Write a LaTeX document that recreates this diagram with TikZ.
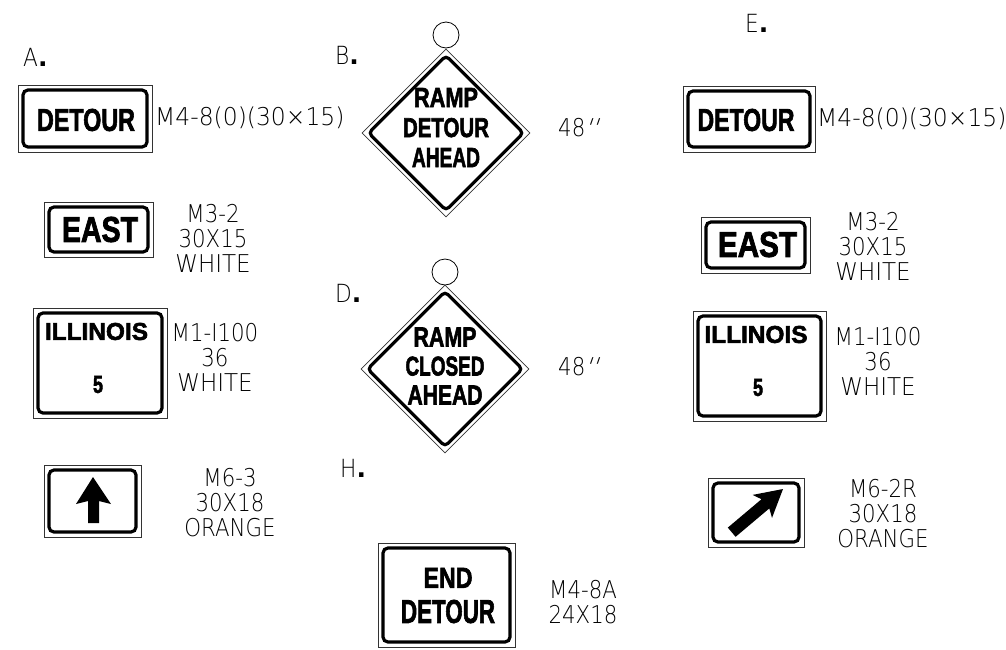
\documentclass[tikz,border=0pt]{standalone}
\usepackage{fontspec}
\usepackage{graphicx}
\usetikzlibrary{shapes.geometric,fit}
\newfontfamily\cadfont{DejaVu Sans ExtraLight}[FakeStretch=0.87,Ligatures=TeXOff]
\newfontfamily\primefont{DejaVu Sans ExtraLight}[FakeSlant=0.35,Ligatures=TeXOff]
\newfontfamily\dotfont{DejaVu Sans Bold}
\newfontfamily\signfont{Liberation Sans Bold}[FakeBold=2.4]
\newcommand\sgn[3]{\resizebox{#1pt}{#2pt}{\signfont #3}}
\begin{document}
\begin{tikzpicture}[x=1pt,y=-1pt,
  signframe/.style={draw, line width=3.2pt, rounded corners=5pt, inner sep=0pt},
  outerframe/.style={draw=black!80, line width=0.8pt, inner sep=3.4pt},
  txt/.style={inner sep=0pt},
  multitxt/.style={inner sep=0pt, align=center, font=\fontsize{10}{#1}\selectfont},
  code/.style={inner sep=0pt, align=center, font=\cadfont\fontsize{24.5}{25}\selectfont},
  letter/.style={inner sep=0pt, anchor=west, font=\cadfont\fontsize{25}{25}\selectfont},
  dthin/.style={diamond, draw=black!80, line width=0.8pt, inner sep=0pt, minimum width=168pt, minimum height=168pt},
  dthick/.style={diamond, draw, line width=3.2pt, rounded corners=4pt, inner sep=0pt, minimum width=156pt, minimum height=156pt},
  ring/.style={circle, draw, line width=0.8pt, inner sep=0pt, minimum size=26pt}
]
\useasboundingbox (0,0) rectangle (1006,649);

% ---- column letters
\node[letter] (lA) at (23,57) {A{\dotfont .}};
\node[letter] (lB) at (335,55) {B{\dotfont .}};
\node[letter] (lD) at (335,293) {D{\dotfont .}};
\node[letter] (lE) at (745,23.5) {E{\dotfont .}};
\node[letter] (lH) at (340,468) {H{\dotfont .}};

% ---- A column
\node[signframe, minimum width=124pt, minimum height=57pt] (a1) at (85,118.5) {};
\node[outerframe, fit=(a1)] (a1o) {};
\node[txt] (a1t) at (86,120) {\sgn{98}{22}{DETOUR}};
\node[code, anchor=west] (a1c) at (155,118) {\scalebox{1.1}[1]{M4-8(0)(30×15)}};

\node[signframe, minimum width=99pt, minimum height=45pt] (a2) at (98.5,229.5) {};
\node[outerframe, fit=(a2)] (a2o) {};
\node[txt] (a2t) at (100,229.5) {\sgn{76}{25}{EAST}};
\node[code] (a2c) at (213,238) {M3-2\\30X15\\\scalebox{1.08}[1]{WHITE}};

\node[signframe, minimum width=124pt, minimum height=100pt] (a3) at (100,363) {};
\node[outerframe, fit=(a3)] (a3o) {};
\node[txt] (a3t) at (96.5,331.5) {\sgn{103}{17}{ILLINOIS}};
\node[txt] (a3n) at (98,384.5) {\sgn{10}{17}{5}};
\node[code] (a3c) at (215,357.5) {M1-I100\\36\\\scalebox{1.08}[1]{WHITE}};

\node[signframe, minimum width=87pt, minimum height=62pt] (a4) at (92.5,501) {};
\node[outerframe, fit=(a4)] (a4o) {};
\fill (93,477) -- (111,504) -- (99,501) -- (99,523) -- (88,523) -- (88,501) -- (76,504) -- cycle;
\node[code] (a4c) at (230,503) {M6-3\\30X18\\ORANGE};

% ---- B and D diamonds
\node[ring] (bc) at (446,35) {};
\node[dthin] (bo) at (446,133) {};
\node[dthick] (bi) at (446,133) {};
\node[multitxt=30] (bt) at (446,127.5) {\sgn{64}{19}{RAMP}\\\sgn{86}{19}{DETOUR}\\\sgn{68}{19}{AHEAD}};
\node[code, anchor=west] (bc2) at (558,128) {48\kern-2pt{\primefont ''}};

\node[ring] (dc) at (445,272) {};
\node[dthin] (do) at (445,369) {};
\node[dthick] (di) at (445,369) {};
\node[multitxt=29] (dt) at (445,366) {\sgn{63}{19}{RAMP}\\\sgn{79}{19}{CLOSED}\\\sgn{75}{19}{AHEAD}};
\node[code, anchor=west] (dc2) at (558,367) {48\kern-2pt{\primefont ''}};

% ---- H
\node[signframe, minimum width=127pt, minimum height=94pt] (h1) at (446.5,595) {};
\node[outerframe, fit=(h1)] (h1o) {};
\node[multitxt=35] (h1t) at (448,595.5) {\sgn{49}{20}{END}\\\sgn{94}{23}{DETOUR}};
\node[code] (h1c) at (583,602) {M4-8A\\24X18};

% ---- E column
\node[signframe, minimum width=122pt, minimum height=56pt] (e1) at (749,119) {};
\node[outerframe, fit=(e1)] (e1o) {};
\node[txt] (e1t) at (746,120) {\sgn{97}{22}{DETOUR}};
\node[code, anchor=west] (e1c) at (817,119) {\scalebox{1.1}[1]{M4-8(0)(30×15)}};

\node[signframe, minimum width=99pt, minimum height=46pt] (e2) at (755.5,245) {};
\node[outerframe, fit=(e2)] (e2o) {};
\node[txt] (e2t) at (757.5,244.5) {\sgn{79}{25}{EAST}};
\node[code] (e2c) at (873,246) {M3-2\\30X15\\\scalebox{1.08}[1]{WHITE}};

\node[signframe, minimum width=123pt, minimum height=100pt] (e3) at (759.5,366) {};
\node[outerframe, fit=(e3)] (e3o) {};
\node[txt] (e3t) at (756,334.5) {\sgn{103}{17}{ILLINOIS}};
\node[txt] (e3n) at (758,387.5) {\sgn{10}{17}{5}};
\node[code] (e3c) at (878,361) {M1-I100\\36\\\scalebox{1.08}[1]{WHITE}};

\node[signframe, minimum width=86pt, minimum height=59pt] (e4) at (756,512.5) {};
\node[outerframe, fit=(e4)] (e4o) {};
\fill (783,489) -- (772,517.9) -- (769.3,508.4) -- (735.6,536.8) -- (727.8,527.6) -- (761.5,499.2) -- (752.6,494.9) -- cycle;
\node[code] (e4c) at (883,514) {M6-2R\\30X18\\ORANGE};
\end{tikzpicture}
\end{document}
